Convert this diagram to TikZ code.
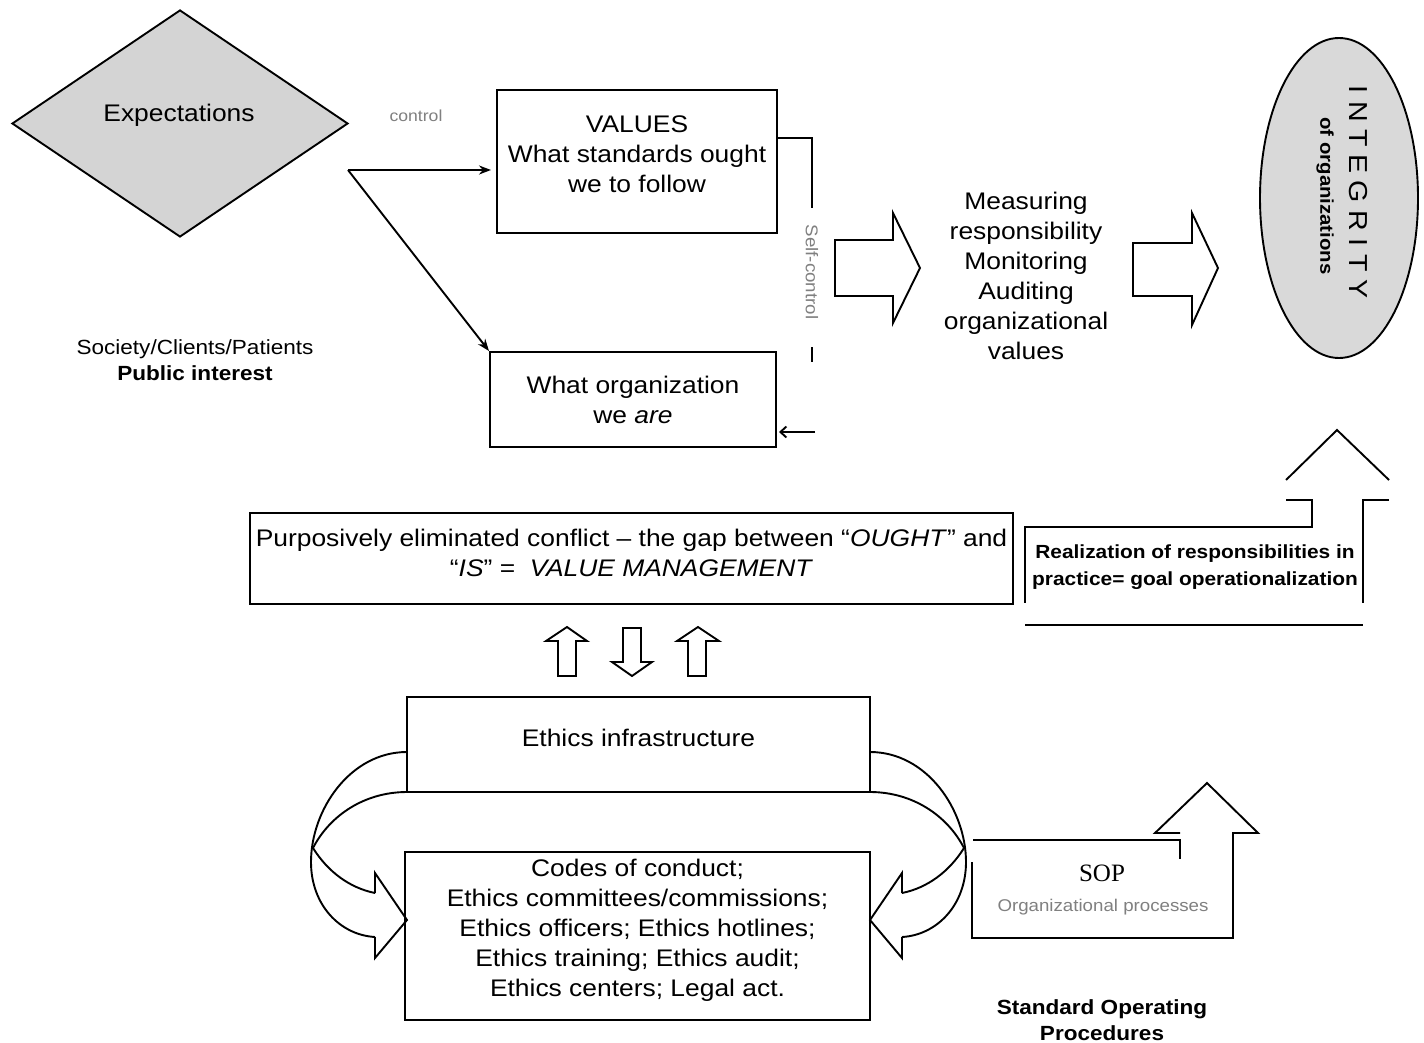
\documentclass[tikz,border=0pt]{standalone}
\usepackage{fontspec}
\setmainfont{Liberation Sans}[FakeStretch=1.1]
\newfontfamily\serifsop{Liberation Serif}
\usetikzlibrary{shapes.geometric,arrows.meta}
\tikzset{
  box/.style={draw, line width=2pt, inner sep=0pt},
  txt/.style={align=center, font=\fontsize{24}{30}\selectfont, inner sep=0pt},
  conn/.style={line width=1.9pt, -{Stealth[length=12pt,width=9pt]}},
  outl/.style={line width=1.9pt},
  blockarrow/.style={line width=1.9pt, fill=white, line join=miter},
  graylbl/.style={text=black!50, inner sep=0pt},
}
\begin{document}
\begin{tikzpicture}[x=1pt,y=-1pt]
\useasboundingbox (0,0) rectangle (1424,1043);
\fill[white] (0,0) rectangle (1424,1043);

% Expectations diamond
\node[diamond, draw, fill=black!17, line width=1.9pt, minimum width=336pt, minimum height=227pt, inner sep=0pt] (expect) at (180,123.5) {};
\node[txt] (expecttxt) at (179,115) {Expectations};
\node[graylbl, font=\fontsize{16}{18}\selectfont] (ctrl) at (416,116) {control};
\node[align=center, font=\fontsize{20.5}{26}\selectfont, inner sep=0pt] (society) at (195,360) {Society/Clients/Patients\\\textbf{Public interest}};

% VALUES box
\node[box, minimum width=280pt, minimum height=143pt] (values) at (637,161.5) {};
\node[txt] (valuestxt) at (637,154) {VALUES\\What standards ought\\we to follow};

% What organization we are
\node[box, txt, minimum width=286pt, minimum height=95pt] (org) at (633,399.5) {What organization\\we \textit{are}};

% control arrows
\coordinate (split) at (348,170);
\draw[conn] (split) -- ([xshift=-5pt]values.west |- split);
\draw[conn] (split) -- (org.north west);

% self-control
\coordinate (sc1) at (812,138);
\coordinate (sc2) at (812,208);
\draw[outl] (values.east |- sc1) -- (sc1) -- (sc2);
\node[graylbl, rotate=-90, font=\fontsize{17}{20}\selectfont] (selfctl) at (812,272) {Self-control};
\coordinate (sc3) at (812,347);
\coordinate (sc4) at (812,362);
\draw[outl] (sc3) -- (sc4);
\coordinate (scin) at (815,432);
\draw[line width=1.9pt, -{Straight Barb[length=6pt,width=11pt]}] (scin) -- ([xshift=2pt]org.east |- scin);

% block arrows top
\draw[blockarrow] (835,240) -- (893,240) -- (893,213) -- (920,268) -- (893,323) -- (893,296) -- (835,296) -- cycle;
\node[txt] (measure) at (1026,276) {Measuring\\responsibility\\Monitoring\\Auditing\\organizational\\values};
\draw[blockarrow] (1133,243) -- (1192,243) -- (1192,213) -- (1218,268) -- (1192,325) -- (1192,296) -- (1133,296) -- cycle;

% Integrity ellipse
\node[ellipse, draw, fill=black!15, line width=1.9pt, minimum width=158pt, minimum height=320pt, inner sep=0pt] (integ) at (1339,198) {};
\node[rotate=-90, inner sep=0pt, font=\fontsize{26}{28}\selectfont] (integtxt) at (1358,192) {I\kern7.5pt N\kern7.5pt T\kern7.5pt E\kern7.5pt G\kern7.5pt R\kern7.5pt I\kern7.5pt T\kern7.5pt Y};
\node[rotate=-90, inner sep=0pt, font=\bfseries\fontsize{18.5}{20}\selectfont] (integsub) at (1325,196) {of organizations};

% Value management box
\node[box, minimum width=763pt, minimum height=91pt] (gap) at (631.5,558.5) {};
\node[txt] (gaptxt) at (631.5,553) {Purposively eliminated conflict -- the gap between ``\textit{OUGHT}'' and\\``\textit{IS}'' = \ \textit{VALUE MANAGEMENT}};

% Realization bent arrow
\draw[outl] (1286,500) -- (1312,500) -- (1312,527) -- (1025,527) -- (1025,603);
\draw[outl] (1286,480) -- (1337,430) -- (1389,480);
\draw[outl] (1389,500) -- (1363,500) -- (1363,603);
\draw[outl] (1025,625) -- (1363,625);
\node[align=center, inner sep=0pt, font=\bfseries\fontsize{19}{27}\selectfont] (realiz) at (1195,567) {Realization of responsibilities in\\practice= goal operationalization};

% small up/down arrows
\draw[blockarrow] (558,676) -- (558,641) -- (546,641) -- (567,627) -- (587,641) -- (576,641) -- (576,676) -- cycle;
\draw[blockarrow] (623,628) -- (641,628) -- (641,662) -- (652,662) -- (632,676) -- (612,662) -- (623,662) -- cycle;
\draw[blockarrow] (688,676) -- (688,641) -- (677,641) -- (698,627) -- (719,641) -- (706,641) -- (706,676) -- cycle;

% Ethics infrastructure
\node[box, minimum width=463pt, minimum height=95pt] (infra) at (638.5,744.5) {};
\node[txt] (infratxt) at (638.5,738) {Ethics infrastructure};

% Codes box
\node[box, minimum width=465pt, minimum height=168pt] (codes) at (637.5,936) {};
\node[txt] (codestxt) at (637.5,930) {Codes of conduct;\\Ethics committees/commissions;\\Ethics officers; Ethics hotlines;\\Ethics training; Ethics audit;\\Ethics centers; Legal act.};

% curved arrows left
\draw[outl] (407,752) .. controls (350,752) and (311,810) .. (311,862) .. controls (311,905) and (340,935) .. (375,937);
\draw[outl] (407,792) .. controls (365,792) and (330,815) .. (313,848) .. controls (328,872) and (350,888) .. (375,893);
\draw[outl, line join=miter] (375,893) -- (375,873) -- (407,920) -- (375,958) -- (375,937);
% curved arrows right
\draw[outl] (870,752) .. controls (927,752) and (966,810) .. (966,862) .. controls (966,905) and (937,935) .. (902,937);
\draw[outl] (870,792) .. controls (912,792) and (947,815) .. (964,848) .. controls (949,872) and (927,888) .. (902,893);
\draw[outl, line join=miter] (902,893) -- (902,873) -- (870,920) -- (902,958) -- (902,937);

% SOP arrow
\draw[outl] (973,840) -- (1180,840) -- (1180,859);
\draw[outl, line join=miter] (1180,833) -- (1155,833) -- (1207,783) -- (1258,833) -- (1233,833) -- (1233,938) -- (972,938) -- (972,862);
\node[inner sep=0pt, font=\serifsop\fontsize{25}{27}\selectfont] (sop) at (1102,873) {SOP};
\node[graylbl, font=\fontsize{17}{20}\selectfont] (orgproc) at (1103,907) {Organizational processes};
\node[align=center, inner sep=0pt, font=\bfseries\fontsize{20.5}{26}\selectfont] (stdop) at (1102,1020) {Standard Operating\\Procedures};
\end{tikzpicture}
\end{document}
